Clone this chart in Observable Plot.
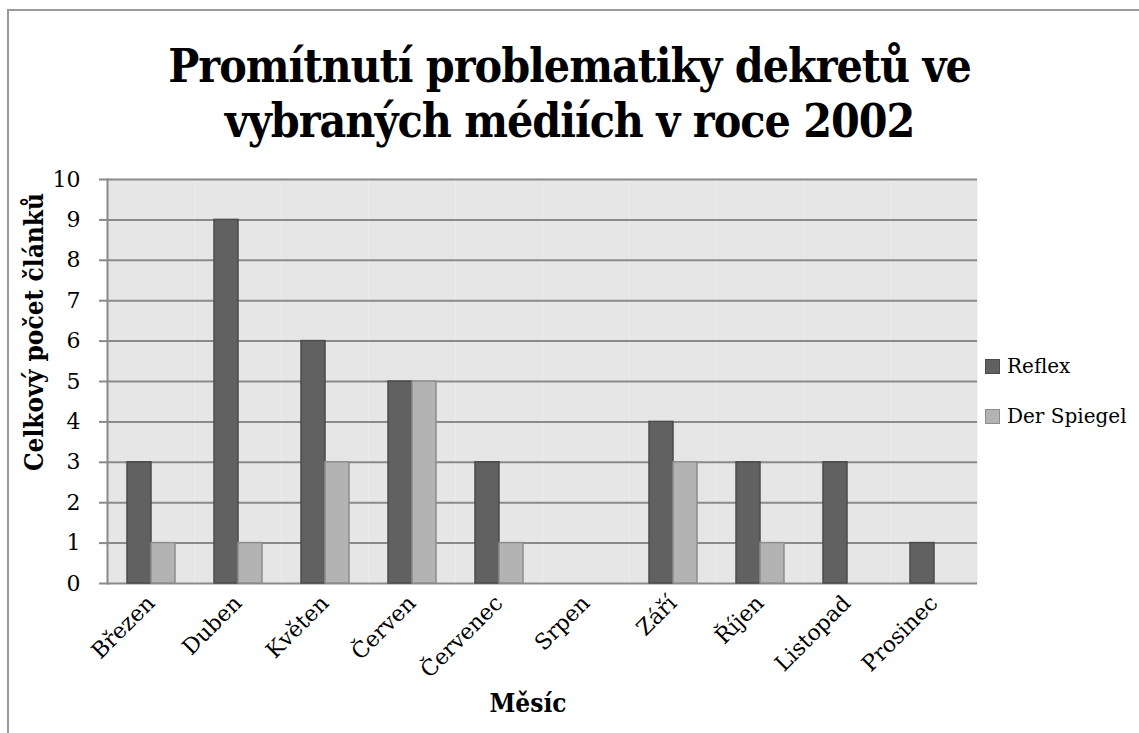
<!DOCTYPE html>
<html>
<head>
<meta charset="utf-8">
<script src="https://cdn.jsdelivr.net/npm/d3@7"></script>
<script src="https://cdn.jsdelivr.net/npm/@observablehq/plot@0.6"></script>
<style>
  body { margin: 0; background: #fff; }
  #wrap { position: relative; width: 1139px; height: 733px; overflow: hidden;
          font-family: "DejaVu Serif", serif; color: #000; }
  #frameline { position: absolute; left: 7px; top: 9px; width: 1200px; height: 800px;
               border-left: 2px solid #9a9a9a; border-top: 2px solid #9a9a9a; }
  #chart { position: absolute; left: 0; top: 0; }
  #title { position: absolute; left: 0; top: 39px; width: 1139px; text-align: center;
           font-family: "DejaVu Serif Condensed", "DejaVu Serif", serif;
           font-weight: bold; font-size: 46px; letter-spacing: -1px; line-height: 55px; }
  #ylabel { position: absolute; left: 34px; top: 332px; transform: translate(-50%, -50%) rotate(-90deg);
            font-family: "DejaVu Serif Condensed", "DejaVu Serif", serif;
            white-space: nowrap; font-weight: bold; font-size: 26px; }
  #xlabel { position: absolute; left: 528px; top: 703px; transform: translate(-50%, -50%);
            font-family: "DejaVu Serif Condensed", "DejaVu Serif", serif;
            white-space: nowrap; font-weight: bold; font-size: 26px; }
  #legend { position: absolute; left: 985px; top: 353px; font-size: 20px; }
  .item { display: flex; align-items: center; height: 26px; margin-bottom: 24px; }
  .sw { width: 13px; height: 13px; border: 1px solid; margin-right: 7px; }
</style>
</head>
<body>
<div id="wrap">
  <div id="frameline"></div>
  <div id="chart"></div>
  <div id="title">Promítnutí problematiky dekretů ve<br>vybraných médiích v roce 2002</div>
  <div id="ylabel">Celkový počet článků</div>
  <div id="xlabel">Měsíc</div>
  <div id="legend"></div>
</div>
<script>
const months = ["Březen", "Duben", "Květen", "Červen", "Červenec", "Srpen", "Září", "Říjen", "Listopad", "Prosinec"];
const series = ["Reflex", "Der Spiegel"];
const reflex = [3, 9, 6, 5, 3, 0, 4, 3, 3, 1];
const spiegel = [1, 1, 3, 5, 1, 0, 3, 1, 0, 0];
const yTicks = [0, 1, 2, 3, 4, 5, 6, 7, 8, 9, 10];
const fills = ["#616161", "#b3b3b3"];
const strokes = ["#4b4b4b", "#8d8d8d"];

// keep every month in the data so that no facet is dropped; empty values draw no bar
const rows = months.flatMap((m, i) => [
  { month: m, series: series[0], value: reflex[i] },
  { month: m, series: series[1], value: spiegel[i] }
]);

const fontFamily = '"DejaVu Serif", serif';

const chart = Plot.plot({
  width: 1139,
  height: 733,
  marginTop: 179,
  marginBottom: 150,
  marginLeft: 106,
  marginRight: 161,
  style: { fontFamily, fontSize: "22px", color: "#000", background: "transparent", overflow: "visible" },
  fx: { domain: months, padding: 0, label: null },
  x: { domain: series, paddingInner: 0, paddingOuter: 0.78, axis: null },
  y: { domain: [0, 10], label: null },
  color: { domain: series, range: fills },
  marks: [
    Plot.frame({ fill: "#e6e6e6", stroke: "none" }),
    Plot.ruleY(yTicks, { stroke: "#8a8a8a", strokeWidth: 2, strokeOpacity: 1 }),
    Plot.frame({ anchor: "left", facetAnchor: "left", stroke: "#8a8a8a", strokeWidth: 2 }),
    Plot.barY(rows, {
      fx: "month", x: "series", y: d => (d.value > 0 ? d.value : NaN), fill: "series",
      stroke: d => strokes[series.indexOf(d.series)], strokeWidth: 1.5
    }),
    Plot.axisY({ ticks: yTicks, tickSize: 8, tickPadding: 19, stroke: "#8a8a8a", strokeWidth: 2,
                 fill: "#000", fontSize: 22, label: null }),
    Plot.axisFx({ anchor: "bottom", tickRotate: -45, tickSize: 0, tickPadding: 16, fontSize: 22,
                  fill: "#000", label: null })
  ]
});
document.getElementById("chart").appendChild(chart);

const legend = document.getElementById("legend");
series.forEach((s, i) => {
  const item = document.createElement("div");
  item.className = "item";
  const sw = document.createElement("span");
  sw.className = "sw";
  sw.style.background = fills[i];
  sw.style.borderColor = strokes[i];
  const t = document.createElement("span");
  t.textContent = s;
  item.appendChild(sw);
  item.appendChild(t);
  legend.appendChild(item);
});
</script>
</body>
</html>
